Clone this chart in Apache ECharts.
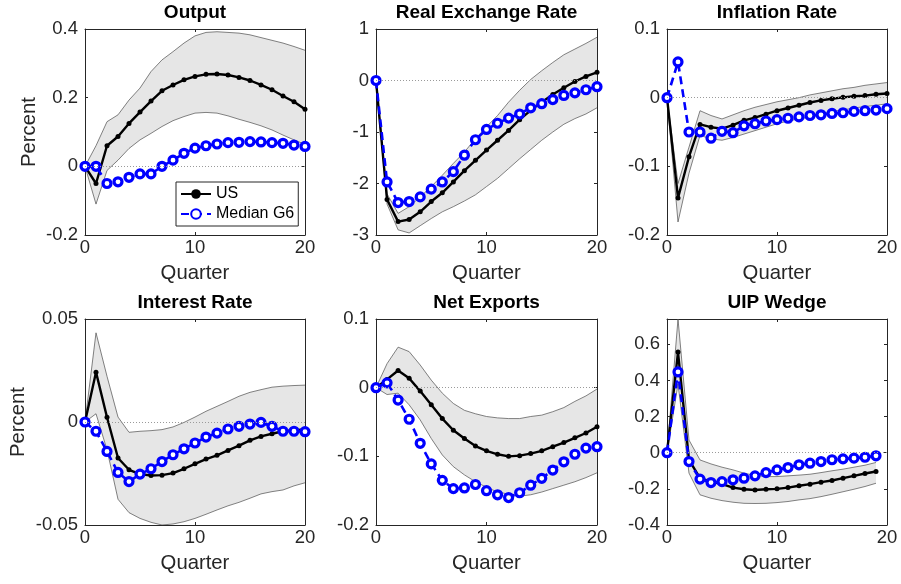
<!DOCTYPE html>
<html><head><meta charset="utf-8">
<script src="https://cdn.jsdelivr.net/npm/echarts@6/dist/echarts.min.js"></script>
<style>html,body{margin:0;padding:0;background:#fff}#c{width:901px;height:584px}</style>
</head><body><div id="c"></div>
<script>
// ---------- data ----------
const quarters = [0,1,2,3,4,5,6,7,8,9,10,11,12,13,14,15,16,17,18,19,20];
const quartersUIP = [0,1,2,3,4,5,6,7,8,9,10,11,12,13,14,15,16,17,18,19];
const seriesNames = ['US', 'Median G6'];
const panelTitles = ['Output','Real Exchange Rate','Inflation Rate','Interest Rate','Net Exports','UIP Wedge'];
const yMins  = [-0.2, -3, -0.2, -0.05, -0.2, -0.4];
const yMaxs  = [0.4, 1, 0.1, 0.05, 0.1, 0.74];
const ySteps = [0.2, 1, 0.1, 0.05, 0.1, 0.2];

const outputUS = [0,-0.05,0.06,0.087,0.125,0.158,0.19,0.22,0.237,0.252,0.262,0.268,0.269,0.266,0.259,0.25,0.237,0.223,0.205,0.188,0.166];
const outputG6 = [0,0,-0.05,-0.045,-0.032,-0.022,-0.022,0,0.018,0.038,0.053,0.06,0.065,0.069,0.07,0.072,0.071,0.069,0.067,0.062,0.058];
const outputLo = [0,-0.11,-0.012,0.018,0.052,0.077,0.096,0.116,0.133,0.145,0.155,0.157,0.155,0.147,0.137,0.128,0.118,0.106,0.091,0.077,0.064];
const outputHi = [0,0.06,0.13,0.15,0.193,0.228,0.276,0.31,0.334,0.359,0.38,0.39,0.392,0.39,0.388,0.383,0.375,0.367,0.359,0.349,0.338];

const rerUS = [0,-2.31,-2.74,-2.70,-2.55,-2.35,-2.18,-1.97,-1.75,-1.55,-1.35,-1.16,-0.97,-0.76,-0.58,-0.42,-0.27,-0.14,-0.02,0.08,0.16];
const rerG6 = [0,-1.97,-2.37,-2.35,-2.26,-2.11,-1.97,-1.77,-1.45,-1.15,-0.95,-0.83,-0.73,-0.65,-0.53,-0.45,-0.37,-0.29,-0.24,-0.18,-0.12];
const rerLo = [0,-2.4,-2.9,-2.96,-2.82,-2.68,-2.55,-2.45,-2.34,-2.22,-2.06,-1.9,-1.71,-1.52,-1.34,-1.16,-1.0,-0.85,-0.74,-0.65,-0.53];
const rerHi = [0,-2.2,-2.58,-2.45,-2.26,-2.06,-1.84,-1.61,-1.39,-1.13,-0.9,-0.68,-0.42,-0.19,0.02,0.19,0.35,0.5,0.61,0.72,0.84];

const inflUS = [0,-0.146,-0.086,-0.039,-0.043,-0.045,-0.04,-0.033,-0.029,-0.024,-0.019,-0.015,-0.011,-0.007,-0.004,-0.0015,0.0005,0.002,0.003,0.005,0.006];
const inflG6 = [0,0.052,-0.05,-0.05,-0.059,-0.049,-0.051,-0.041,-0.038,-0.034,-0.032,-0.03,-0.028,-0.026,-0.025,-0.023,-0.022,-0.02,-0.019,-0.018,-0.016];
const inflLo = [0,-0.181,-0.11,-0.055,-0.06,-0.062,-0.058,-0.053,-0.048,-0.043,-0.038,-0.034,-0.031,-0.028,-0.024,-0.02,-0.018,-0.015,-0.013,-0.011,-0.009];
const inflHi = [0,-0.125,-0.072,-0.019,-0.026,-0.031,-0.025,-0.019,-0.014,-0.01,-0.006,-0.003,0.0,0.004,0.007,0.01,0.013,0.015,0.018,0.02,0.022];

const rateUS = [0,0.0242,0.0023,-0.0175,-0.0232,-0.0253,-0.026,-0.0258,-0.0248,-0.0227,-0.0203,-0.018,-0.0162,-0.0138,-0.0115,-0.0089,-0.007,-0.0057,-0.0045,-0.004,-0.0036];
const rateG6 = [0,-0.0045,-0.0143,-0.0245,-0.0289,-0.0253,-0.0227,-0.0192,-0.0159,-0.013,-0.0102,-0.0073,-0.0054,-0.0034,-0.0021,-0.001,-0.0002,-0.0021,-0.0045,-0.0045,-0.0047];
const rateLo = [0,0.004,-0.0135,-0.0375,-0.044,-0.0468,-0.0487,-0.05,-0.0495,-0.0484,-0.0468,-0.0448,-0.0427,-0.0407,-0.039,-0.037,-0.0349,-0.0338,-0.033,-0.031,-0.0295];
const rateHi = [0,0.0433,0.0222,0.0024,-0.005,-0.0045,-0.0042,-0.0037,-0.0024,-0.0002,0.0024,0.0052,0.0076,0.01,0.0125,0.0144,0.0157,0.0169,0.0174,0.0177,0.0179];

const nxUS = [0,0.012,0.025,0.0136,-0.005,-0.025,-0.045,-0.062,-0.074,-0.085,-0.092,-0.097,-0.1,-0.099,-0.096,-0.092,-0.086,-0.08,-0.073,-0.066,-0.057];
const nxG6 = [0,0.007,-0.018,-0.046,-0.081,-0.111,-0.135,-0.147,-0.146,-0.141,-0.15,-0.156,-0.16,-0.153,-0.142,-0.132,-0.12,-0.108,-0.097,-0.088,-0.086];
const nxLo = [0,-0.01,-0.008,-0.025,-0.047,-0.074,-0.098,-0.115,-0.127,-0.137,-0.145,-0.152,-0.155,-0.158,-0.156,-0.152,-0.147,-0.142,-0.137,-0.131,-0.124];
const nxHi = [0,0.035,0.059,0.0525,0.033,0.011,-0.008,-0.023,-0.033,-0.038,-0.042,-0.044,-0.045,-0.045,-0.042,-0.04,-0.035,-0.029,-0.02,-0.012,-0.002];

const uipUS = [0,0.557,-0.04,-0.141,-0.16,-0.174,-0.193,-0.202,-0.206,-0.202,-0.2,-0.193,-0.183,-0.174,-0.163,-0.154,-0.141,-0.128,-0.115,-0.104];
const uipG6 = [0,0.447,-0.049,-0.146,-0.165,-0.16,-0.15,-0.141,-0.128,-0.11,-0.095,-0.082,-0.067,-0.058,-0.049,-0.039,-0.034,-0.03,-0.025,-0.017];
const uipLo = [0,0.38,-0.113,-0.233,-0.252,-0.265,-0.274,-0.28,-0.281,-0.28,-0.276,-0.27,-0.261,-0.254,-0.243,-0.23,-0.216,-0.202,-0.187,-0.169];
const uipHi = [0,0.74,0.07,-0.04,-0.062,-0.08,-0.095,-0.113,-0.126,-0.132,-0.132,-0.128,-0.124,-0.119,-0.11,-0.1,-0.091,-0.08,-0.069,-0.054];

// ---------- layout / style ----------
const panelData = [
  [quarters, outputUS, outputG6, outputLo, outputHi],
  [quarters, rerUS, rerG6, rerLo, rerHi],
  [quarters, inflUS, inflG6, inflLo, inflHi],
  [quarters, rateUS, rateG6, rateLo, rateHi],
  [quarters, nxUS, nxG6, nxLo, nxHi],
  [quartersUIP, uipUS, uipG6, uipLo, uipHi]
];
const layout = [[85,29,220,206],[376,29,221,206],[667,29,220,206],[85,319,220,206],[376,319,221,206],[667,319,220,206]];
const percentGap = [46, null, null, 57, null, null];
const FONT = '"Liberation Sans", Arial, Helvetica, sans-serif';
const AX = '#262626';

const grid = [], xAxis = [], yAxis = [], series = [], title = [];
layout.forEach((g, i) => {
  grid.push({left: g[0], top: g[1], width: g[2], height: g[3], containLabel: false});
  title.push({text: panelTitles[i], left: g[0] + g[2] / 2, top: g[1] - 26, textAlign: 'center', padding: 0,
    textStyle: {fontFamily: FONT, fontSize: 19, fontWeight: 'bold', color: '#000'}});
  const axLine = {show: true, onZero: false, lineStyle: {color: AX, width: 1}};
  const tick = {show: true, inside: true, length: 3, lineStyle: {color: AX, width: 1}};
  xAxis.push({type: 'value', gridIndex: i, min: 0, max: 20, interval: 10, position: 'bottom',
    axisLine: axLine, axisTick: tick, splitLine: {show: false},
    axisLabel: {margin: 3, fontFamily: FONT, fontSize: 18.5, color: AX},
    name: 'Quarter', nameLocation: 'middle', nameGap: 28,
    nameTextStyle: {fontFamily: FONT, fontSize: 20.3, color: AX}});
  xAxis.push({type: 'value', gridIndex: i, min: 0, max: 20, interval: 10, position: 'top',
    axisLine: axLine, axisTick: tick, splitLine: {show: false}, axisLabel: {show: false}});
  const yl = {type: 'value', gridIndex: i, min: yMins[i], max: yMaxs[i], interval: ySteps[i], position: 'left',
    axisLine: axLine, axisTick: tick, splitLine: {show: false},
    axisLabel: {margin: 7, fontFamily: FONT, fontSize: 18.5, color: AX, showMaxLabel: i === 5 ? false : null}};
  if (percentGap[i] !== null) {
    yl.name = 'Percent'; yl.nameLocation = 'middle'; yl.nameGap = percentGap[i];
    yl.nameTextStyle = {fontFamily: FONT, fontSize: 20.3, color: AX};
  }
  yAxis.push(yl);
  yAxis.push({type: 'value', gridIndex: i, min: yMins[i], max: yMaxs[i], interval: ySteps[i], position: 'right',
    axisLine: axLine, axisTick: tick, splitLine: {show: false}, axisLabel: {show: false}});

  const [xs, us, g6, lo, hi] = panelData[i];
  const xi = i * 2, yi = i * 2;
  const edge = {color: '#4d4d4d', width: 0.7};
  // shaded band (polygon between lower and upper bounds, via axis scales)
  series.push({type: 'custom', name: 'band-' + i, xAxisIndex: xi, yAxisIndex: yi, silent: true,
    encode: {x: 0, y: [1, 2]},
    data: xs.map((x, k) => [x, lo[k], hi[k]]),
    renderItem: (params, api) => {
      if (params.dataIndex !== 0) return null;
      const pts = [];
      for (let k = 0; k < xs.length; k++) pts.push(api.coord([xs[k], hi[k]]));
      for (let k = xs.length - 1; k >= 0; k--) pts.push(api.coord([xs[k], lo[k]]));
      const cs = params.coordSys;
      return {type: 'polygon', shape: {points: pts}, style: {fill: '#e6e6e6', stroke: null},
        clipPath: {type: 'rect', shape: {x: cs.x, y: cs.y, width: cs.width, height: cs.height}}};
    }});
  series.push({type: 'line', name: 'band-lo-' + i, xAxisIndex: xi, yAxisIndex: yi,
    symbol: 'none', silent: true, lineStyle: edge, data: xs.map((x, k) => [x, lo[k]])});
  series.push({type: 'line', name: 'band-hi-' + i, xAxisIndex: xi, yAxisIndex: yi,
    symbol: 'none', silent: true, lineStyle: edge, data: xs.map((x, k) => [x, hi[k]])});
  series.push({type: 'line', name: seriesNames[0], xAxisIndex: xi, yAxisIndex: yi,
    symbol: 'circle', symbolSize: 5, color: '#000',
    itemStyle: {color: '#000'}, lineStyle: {color: '#000', width: 2.4},
    markLine: {silent: true, symbol: 'none', label: {show: false},
      lineStyle: {color: '#9a9a9a', type: [1, 2], width: 1}, data: [{yAxis: 0}]},
    data: xs.map((x, k) => [x, us[k]])});
  series.push({type: 'line', name: seriesNames[1], xAxisIndex: xi, yAxisIndex: yi,
    symbol: 'circle', symbolSize: 8, color: '#0000ff',
    itemStyle: {color: '#ffffff', borderColor: '#0000ff', borderWidth: 3.2},
    lineStyle: {color: '#0000ff', width: 2.6, type: [8, 5]},
    data: xs.map((x, k) => [x, g6[k]])});
});

const chart = echarts.init(document.getElementById('c'), null, {renderer: 'canvas'});
chart.setOption({
  animation: false,
  backgroundColor: '#fff',
  title, grid, xAxis, yAxis, series,
  legend: {data: seriesNames, orient: 'vertical', left: 176, top: 182,
    backgroundColor: '#fff', borderColor: AX, borderWidth: 1,
    padding: [4, 4, 4, 4], itemGap: 4, itemWidth: 30, itemHeight: 12,
    textStyle: {fontFamily: FONT, fontSize: 16, color: '#000'}}
});
</script></body></html>
